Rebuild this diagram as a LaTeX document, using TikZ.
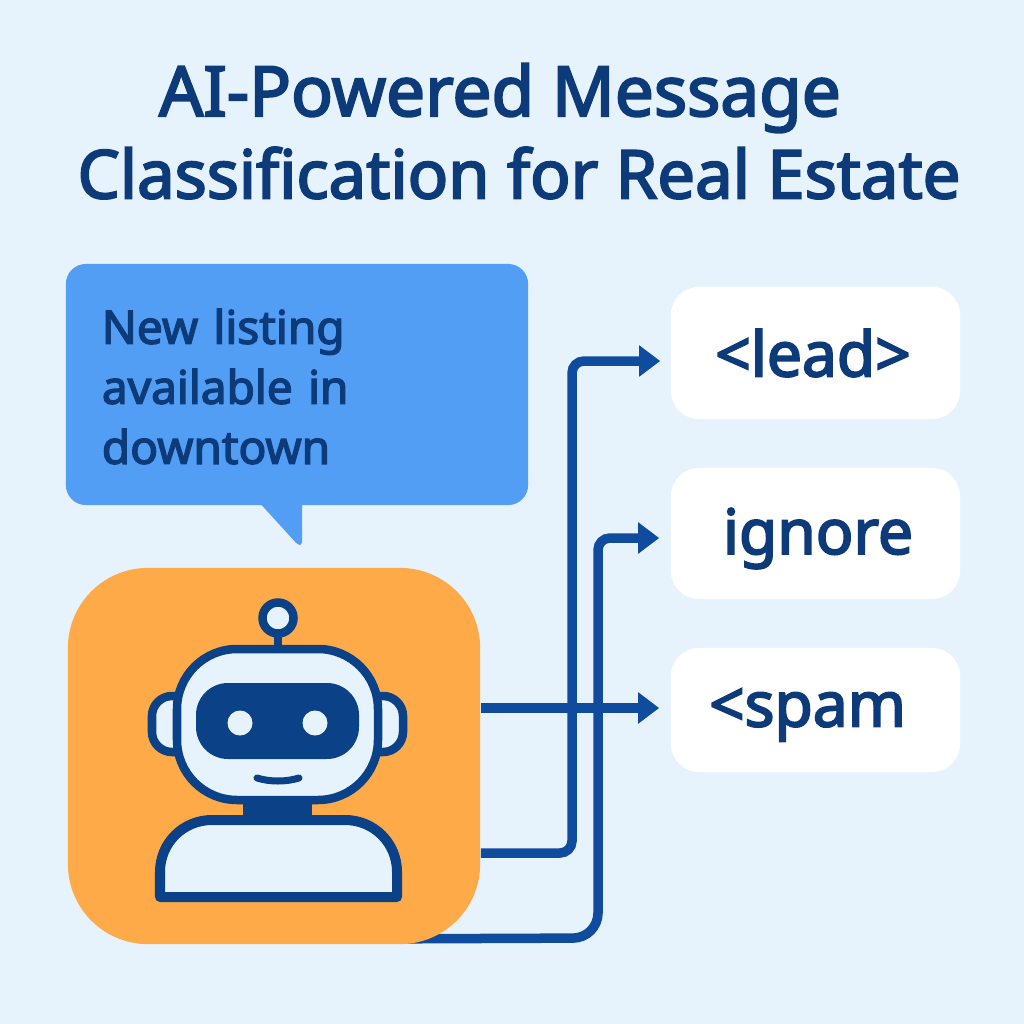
\documentclass[tikz,border=0pt]{standalone}
\usepackage{fontspec}
\setmainfont{Noto Sans}[FakeBold=3]
\usetikzlibrary{calc,positioning,arrows.meta,backgrounds}
\definecolor{navy}{HTML}{0D3A78}
\definecolor{deepblue}{HTML}{0F4C9E}
\definecolor{robotblue}{HTML}{0B4187}
\definecolor{bubbleblue}{HTML}{529EF5}
\definecolor{tileorange}{HTML}{FFAA48}
\definecolor{paleblue}{HTML}{E6F3FD}

\begin{document}
\begin{tikzpicture}[x=0.01cm,y=-0.01cm,>={Triangle[length=0.21cm,width=0.30cm]},
  title/.style = {text = navy, inner sep = 0pt},
  catbox/.style = {fill = white, rounded corners = 0.28cm, minimum width = 2.89cm, text = navy, font = \fontsize{17.7pt}{20pt}\selectfont},
  flow/.style = {draw = deepblue, line width = 0.095cm},
  part/.style = {draw = robotblue, fill = paleblue, line width = 0.085cm},
]
\useasboundingbox (0,0) rectangle (1024,1024);
\begin{pgfonlayer}{background}
\fill[paleblue] (0,0) rectangle (1024,1024);
\end{pgfonlayer}
\node (line1) at (500,98)[title,font = \fontsize{19.7pt}{24pt}\selectfont] {AI-Powered Message};
\node (line2) at (519,173)[title,font = \fontsize{19.05pt}{24pt}\selectfont] {Classification for Real Estate};
% speech bubble
\fill[bubbleblue,rounded corners=0.03cm] (257,500) -- (298,545) -- (302,545) -- (302,500) -- cycle;
\node (bubble) at (297,384.5)[fill = bubbleblue, rounded corners = 0.2cm, minimum width = 4.62cm, minimum height = 2.41cm, inner sep = 0pt, text width = 3.90cm, align = left, text = navy, font = \fontsize{13.1pt}{17.07pt}\selectfont] {\raisebox{-0.02cm}[\height][\depth]{New listing}\\\raisebox{-0.02cm}[\height][\depth]{available in}\\\raisebox{-0.02cm}[\height][\depth]{downtown}};
% labels
\node (lead) at (815.5,353)[catbox,minimum height = 1.32cm] {\hspace*{-0.05cm}<lead>};
\node (ignore) at (815.5,533.5)[catbox,minimum height = 1.31cm] {\hspace*{0.05cm}\raisebox{-0.05cm}[\height][\depth]{ignore}};
\node (spam) at (815.5,710)[catbox,minimum height = 1.24cm] {\hspace*{-0.16cm}\raisebox{-0.05cm}[\height][\depth]{<spam}};
% robot tile
\node (robot) at (274,756)[fill = tileorange, rounded corners = 0.8cm, minimum width = 4.12cm, minimum height = 3.76cm] {};
% connectors
\draw[flow,->] ($(robot.east)+(0,-48)$) -- ($(spam.west)+(-11,-2)$);
\draw[flow,->,rounded corners=0.12cm] ($(robot.east)+(0,97)$) -- (572,853) -- (572,361) -- ($(lead.west)+(-10,8)$);
\begin{pgfonlayer}{background}
\draw[flow,->] ($(robot.south)+(130,-6)$) [rounded corners=0.25cm] -- (598,938) [rounded corners=0.12cm] -- (598,538) -- ($(ignore.west)+(-11,4.5)$);
\end{pgfonlayer}
% robot
\draw[robotblue,line width=0.08cm] (278,634) -- (278,648);
\draw[part] (278,618) circle (15.5);
\draw[part,rounded corners=0.2cm] (152,696) rectangle (200,752);
\draw[part,rounded corners=0.2cm] (355,696) rectangle (403,752);
\fill[robotblue] (243,800) rectangle (312,825);
\draw[part,line width=0.10cm,line join=round] (160,897) -- (160,872) .. controls (160,843) and (183,820) .. (212,820) -- (345,820) .. controls (374,820) and (397,843) .. (397,872) -- (397,897) -- cycle;
\draw[part,rounded corners=0.6cm] (177,649) rectangle (378,800);
\fill[robotblue,rounded corners=0.32cm] (196,683) rectangle (359,759);
\fill[paleblue] (240,723) circle (12.5);
\fill[paleblue] (315,723) circle (12.5);
\draw[robotblue,line width=0.07cm,line cap=round] (257,778) .. controls (270,782) and (286,782) .. (299,778);
\end{tikzpicture}
\end{document}
